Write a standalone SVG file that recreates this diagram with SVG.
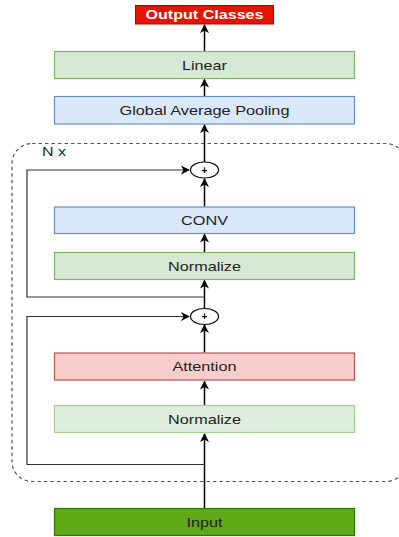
<svg xmlns="http://www.w3.org/2000/svg" width="399" height="537" viewBox="0 0 399 537">
  <style>
    .lbl { font-family: "Liberation Sans", Arial, sans-serif; font-size: 13px; fill: #222; text-anchor: middle; }
    .out { font-family: "Liberation Sans", Arial, sans-serif; font-size: 12px; font-weight: bold; fill: #fff; text-anchor: middle; }
    .green { fill: #d5e8d4; stroke: #82b366; stroke-width: 1.2; }
    .green2 { fill: #deeddd; stroke: #a4d193; stroke-width: 1.2; }
    .blue { fill: #dae8fc; stroke: #6c8ebf; stroke-width: 1.2; }
    .red { fill: #f8cecc; stroke: #b85450; stroke-width: 1.2; }
    .edge { fill: none; stroke: #000; stroke-width: 1.5; }
    .skip { fill: none; stroke: #333; stroke-width: 1.2; }
    .plus { fill: #fff; stroke: #000; stroke-width: 1.2; }
  </style>
  <defs>
    <marker id="arrB" viewBox="0 0 10 10" refX="9" refY="5" markerWidth="9" markerHeight="9" markerUnits="userSpaceOnUse" orient="auto">
      <path d="M0,0 L10,5 L0,10 L3,5 Z" fill="#000"/>
    </marker>
  </defs>

  <g id="container">
    <rect x="12" y="143.5" width="394" height="338" rx="20" ry="20" fill="none" stroke="#555" stroke-width="1.2" stroke-dasharray="3.5 3"/>
    <text x="42" y="155.5" class="lbl" style="text-anchor:start" textLength="24" lengthAdjust="spacingAndGlyphs">N x</text>
  </g>

  <g id="connectors">
    <path class="edge" d="M204.5,508 L204.5,434" marker-end="url(#arrB)"/>
    <path class="skip" d="M204.5,464.5 L27,464.5 L27,316.5 L189,316.5" marker-end="url(#arrB)"/>
    <path class="edge" d="M204.5,405 L204.5,381.5" marker-end="url(#arrB)"/>
    <path class="edge" d="M204.5,352.5 L204.5,325" marker-end="url(#arrB)"/>
    <path class="edge" d="M204.5,308.5 L204.5,280.5" marker-end="url(#arrB)"/>
    <path class="skip" d="M204.5,297 L27,297 L27,170 L189,170" marker-end="url(#arrB)"/>
    <path class="edge" d="M204.5,252 L204.5,234.5" marker-end="url(#arrB)"/>
    <path class="edge" d="M204.5,206.5 L204.5,179" marker-end="url(#arrB)"/>
    <path class="edge" d="M204.5,162 L204.5,125" marker-end="url(#arrB)"/>
    <path class="edge" d="M204.5,96 L204.5,79.5" marker-end="url(#arrB)"/>
    <path class="edge" d="M204.5,51 L204.5,25" marker-end="url(#arrB)"/>
  </g>

  <g id="output">
    <rect x="135.5" y="5.5" width="138" height="18.5" fill="#e51400" stroke="#b20000" stroke-width="1"/>
    <text x="204.5" y="19" class="out" textLength="118" lengthAdjust="spacingAndGlyphs">Output Classes</text>
  </g>
  <g id="linear">
    <rect x="54.5" y="51.5" width="300" height="27" class="green"/>
    <text x="204.5" y="69.5" class="lbl" textLength="45" lengthAdjust="spacingAndGlyphs">Linear</text>
  </g>
  <g id="gap">
    <rect x="54.5" y="96.5" width="300" height="27.5" class="blue"/>
    <text x="204.5" y="115" class="lbl" textLength="170" lengthAdjust="spacingAndGlyphs">Global Average Pooling</text>
  </g>
  <g id="plus1">
    <ellipse cx="204.5" cy="170" rx="14" ry="8" class="plus"/>
    <text x="204.5" y="173.5" class="lbl" style="font-size:10px;font-weight:bold;fill:#000">+</text>
  </g>
  <g id="conv">
    <rect x="54.5" y="207" width="300" height="26.5" class="blue"/>
    <text x="204.5" y="224.5" class="lbl" textLength="47" lengthAdjust="spacingAndGlyphs">CONV</text>
  </g>
  <g id="norm1">
    <rect x="54.5" y="252.5" width="300" height="27" class="green"/>
    <text x="204.5" y="270.5" class="lbl" textLength="73" lengthAdjust="spacingAndGlyphs">Normalize</text>
  </g>
  <g id="plus2">
    <ellipse cx="204.5" cy="316.5" rx="14" ry="8" class="plus"/>
    <text x="204.5" y="320" class="lbl" style="font-size:10px;font-weight:bold;fill:#000">+</text>
  </g>
  <g id="attention">
    <rect x="54.5" y="353" width="300" height="27" class="red"/>
    <text x="204.5" y="371" class="lbl" textLength="64" lengthAdjust="spacingAndGlyphs">Attention</text>
  </g>
  <g id="norm2">
    <rect x="54.5" y="405.5" width="300" height="27" class="green2"/>
    <text x="204.5" y="423.5" class="lbl" textLength="73" lengthAdjust="spacingAndGlyphs">Normalize</text>
  </g>
  <g id="input">
    <rect x="54.5" y="508.5" width="300" height="27" fill="#60a917" stroke="#2d7600" stroke-width="1.2"/>
    <text x="204.5" y="526.5" class="lbl" textLength="36" lengthAdjust="spacingAndGlyphs">Input</text>
  </g>
</svg>
